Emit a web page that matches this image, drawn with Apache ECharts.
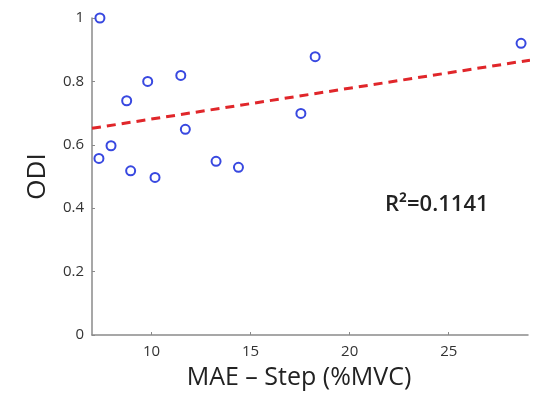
<!DOCTYPE html>
<html><head><meta charset="utf-8">
<script src="https://cdn.jsdelivr.net/npm/echarts@6/dist/echarts.min.js"></script>
<style>html,body{margin:0;padding:0;background:#fff}#c{width:542px;height:397px}</style>
</head><body><div id="c"></div>
<script>
var maeX = [7.4, 7.35, 7.96, 8.75, 8.95, 9.81, 10.18, 11.48, 11.71, 13.26, 14.39, 17.54, 18.26, 28.65];
var odiY = [1.0, 0.557, 0.597, 0.739, 0.518, 0.80, 0.497, 0.819, 0.649, 0.548, 0.529, 0.699, 0.878, 0.920];
var fitX = [7, 29.1];
var fitY = [0.652, 0.867];
var xTicks = [10, 15, 20, 25];
var yTicks = [0, 0.2, 0.4, 0.6, 0.8, 1];
var r2Text = 'R²=0.1141';

var FONT = '"Open Sans", sans-serif';
var pts = maeX.map(function(x,i){return [x, odiY[i]];});
var fit = fitX.map(function(x,i){return [x, fitY[i]];});
var chart = echarts.init(document.getElementById('c'), null, {renderer:'canvas'});
chart.setOption({
  animation:false,
  backgroundColor:'#fff',
  grid:{left:92, right:14, top:18, bottom:62},
  xAxis:{type:'value', min:7, max:29,
    name:'MAE – Step (%MVC)', nameLocation:'middle', nameGap:30,
    nameTextStyle:{fontFamily:FONT, fontSize:25, color:'#222', padding:[0,22,0,0]},
    axisLine:{lineStyle:{color:'#8a8a8a', width:1.5}},
    axisTick:{inside:true, length:3, customValues:xTicks, lineStyle:{color:'#8a8a8a'}},
    axisLabel:{customValues:xTicks, fontFamily:FONT, fontSize:15, color:'#333', margin:9},
    splitLine:{show:false}},
  yAxis:{type:'value', min:0, max:1, interval:0.2,
    name:'ODI', nameLocation:'middle', nameGap:41,
    nameTextStyle:{fontFamily:FONT, fontSize:26, color:'#222'},
    axisLine:{show:true, lineStyle:{color:'#8a8a8a', width:1.5}},
    axisTick:{show:true, inside:true, length:3, lineStyle:{color:'#8a8a8a'}},
    axisLabel:{fontFamily:FONT, fontSize:15, color:'#333', margin:8},
    splitLine:{show:false}},
  series:[
    {type:'line', data:fit, symbol:'none', silent:true,
      lineStyle:{color:'#e0262a', width:3, type:[9,6]}, z:1},
    {type:'scatter', data:pts, symbol:'circle', symbolSize:9,
      itemStyle:{color:'#ffffff', borderColor:'#3848e0', borderWidth:2, opacity:1}, z:3}
  ],
  graphic:[{type:'text', left:385, top:194,
    style:{text:r2Text, fontFamily:FONT, fontSize:22, fontWeight:600, fill:'#222'}}]
});
</script></body></html>
